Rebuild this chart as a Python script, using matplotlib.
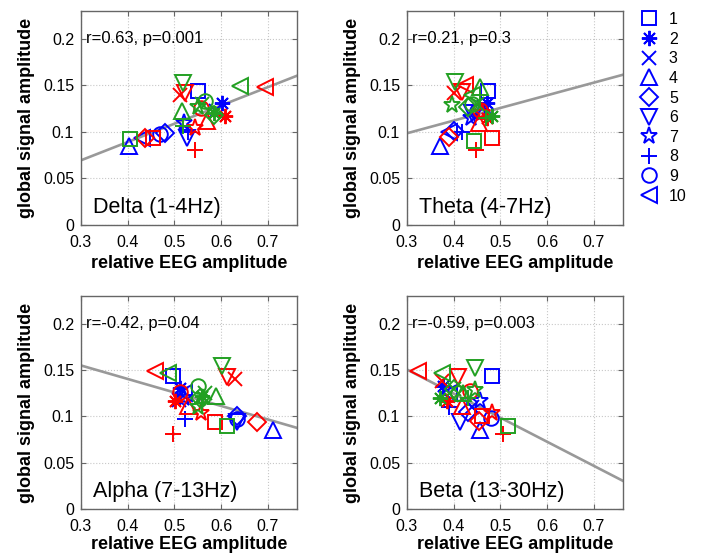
import matplotlib
matplotlib.use('Agg')
import matplotlib.pyplot as plt
from matplotlib.lines import Line2D
import numpy as np

plt.rcParams['font.family'] = ['Liberation Sans', 'DejaVu Sans']

# ---------------- data ----------------
subjects = ['1', '2', '3', '4', '5', '6', '7', '8', '9', '10']
band_titles = ['Delta (1-4Hz)', 'Theta (4-7Hz)', 'Alpha (7-13Hz)', 'Beta (13-30Hz)']
stats_text = ['r=0.63, p=0.001', 'r=0.21, p=0.3', 'r=-0.42, p=0.04', 'r=-0.59, p=0.003']
fit_slope = [0.1965, 0.136, -0.1457, -0.260]
fit_intercept = [0.0106, 0.0578, 0.1987, 0.2286]
x_ticks = [0.3, 0.4, 0.5, 0.6, 0.7]
x_tick_labels = ['0.3', '0.4', '0.5', '0.6', '0.7']
y_ticks = [0, 0.05, 0.1, 0.15, 0.2]
y_tick_labels = ['0', '0.05', '0.1', '0.15', '0.2']

# Delta
delta_x_blue = [0.551, 0.601, 0.590, 0.402, 0.480, 0.526, 0.520, 0.530, 0.470, 0.430]
delta_y_blue = [0.144, 0.131, 0.122, 0.085, 0.099, 0.094, 0.110, 0.100, 0.098, 0.093]
delta_x_red = [0.455, 0.609, 0.512, 0.569, 0.437, 0.523, 0.544, 0.544, 0.558, 0.694]
delta_y_red = [0.094, 0.117, 0.140, 0.112, 0.094, 0.142, 0.104, 0.081, 0.126, 0.148]
delta_x_green = [0.405, 0.585, 0.560, 0.516, 0.585, 0.519, 0.550, 0.519, 0.566, 0.641]
delta_y_green = [0.092, 0.120, 0.130, 0.122, 0.118, 0.153, 0.127, 0.106, 0.133, 0.149]

# Theta
theta_x_blue = [0.474, 0.471, 0.465, 0.371, 0.400, 0.440, 0.437, 0.418, 0.450, 0.390]
theta_y_blue = [0.144, 0.131, 0.127, 0.085, 0.101, 0.120, 0.115, 0.100, 0.122, 0.100]
theta_x_red = [0.482, 0.471, 0.400, 0.454, 0.389, 0.418, 0.460, 0.447, 0.456, 0.424]
theta_y_red = [0.094, 0.115, 0.142, 0.110, 0.095, 0.143, 0.120, 0.081, 0.124, 0.151]
theta_x_green = [0.443, 0.482, 0.450, 0.456, 0.431, 0.403, 0.396, 0.470, 0.440, 0.440]
theta_y_green = [0.090, 0.117, 0.130, 0.148, 0.127, 0.154, 0.129, 0.115, 0.130, 0.140]

# Alpha
alpha_x_blue = [0.497, 0.512, 0.510, 0.712, 0.633, 0.633, 0.520, 0.522, 0.633, 0.520]
alpha_y_blue = [0.1435, 0.131, 0.118, 0.085, 0.100, 0.094, 0.120, 0.097, 0.097, 0.125]
alpha_x_red = [0.587, 0.501, 0.630, 0.530, 0.676, 0.612, 0.558, 0.497, 0.512, 0.458]
alpha_y_red = [0.0935, 0.117, 0.140, 0.111, 0.0935, 0.142, 0.104, 0.081, 0.126, 0.149]
alpha_x_green = [0.612, 0.560, 0.565, 0.590, 0.555, 0.601, 0.550, 0.560, 0.551, 0.487]
alpha_y_green = [0.090, 0.122, 0.125, 0.122, 0.120, 0.154, 0.110, 0.115, 0.133, 0.147]

# Beta
beta_x_blue = [0.482, 0.378, 0.440, 0.456, 0.430, 0.413, 0.4555, 0.390, 0.480, 0.390]
beta_y_blue = [0.1435, 0.133, 0.110, 0.085, 0.105, 0.0935, 0.117, 0.110, 0.098, 0.125]
beta_x_red = [0.460, 0.385, 0.374, 0.417, 0.455, 0.410, 0.482, 0.506, 0.435, 0.324]
beta_y_red = [0.100, 0.117, 0.138, 0.111, 0.095, 0.142, 0.104, 0.081, 0.127, 0.149]
beta_x_green = [0.517, 0.371, 0.400, 0.420, 0.400, 0.446, 0.445, 0.430, 0.410, 0.374]
beta_y_green = [0.090, 0.120, 0.130, 0.125, 0.130, 0.152, 0.128, 0.120, 0.125, 0.147]

bands = [
    [(delta_x_blue, delta_y_blue), (delta_x_red, delta_y_red), (delta_x_green, delta_y_green)],
    [(theta_x_blue, theta_y_blue), (theta_x_red, theta_y_red), (theta_x_green, theta_y_green)],
    [(alpha_x_blue, alpha_y_blue), (alpha_x_red, alpha_y_red), (alpha_x_green, alpha_y_green)],
    [(beta_x_blue, beta_y_blue), (beta_x_red, beta_y_red), (beta_x_green, beta_y_green)],
]

# ---------------- style ----------------
markers = ['s', (8, 2, 0), 'x', '^', 'D', 'v', '*', '+', 'o', '<']
msizes = [10.5, 11, 10, 11, 9, 11, 12.5, 11.5, 10.5, 11]
colors = ['#0000ff', '#ff0000', '#22a022']
spine_col = '#666666'
W, H = 701, 554
fig = plt.figure(figsize=(W / 100, H / 100), dpi=100)

# axes rectangles in pixels: left, top, width, height
rects_px = [(81, 11, 216, 214), (407, 11, 216, 214), (81, 296, 216, 213), (407, 296, 216, 213)]
xmin, xmax = 0.3, 0.7625
ymin, ymax = 0.0, 0.23

for i, (l, t, w, h) in enumerate(rects_px):
    ax = fig.add_axes([l / W, (H - t - h) / H, w / W, h / H])
    ax.set_xlim(xmin, xmax)
    ax.set_ylim(ymin, ymax)
    ax.set_xticks(x_ticks)
    ax.set_xticklabels(x_tick_labels)
    ax.set_yticks(y_ticks)
    ax.set_yticklabels(y_tick_labels)
    ax.grid(True, linestyle=':', color='#c8c8c8', linewidth=0.8)
    ax.set_axisbelow(True)
    ax.tick_params(direction='in', length=3.5, width=0.8, color=spine_col,
                   labelsize=11.5, top=True, right=True, pad=5)
    ax.tick_params(axis='x', pad=7)
    for s in ax.spines.values():
        s.set_color(spine_col)
        s.set_linewidth(1.0)

    xs = np.array([xmin, xmax])
    ax.plot(xs, fit_slope[i] * xs + fit_intercept[i], color='#999999', linewidth=1.9, zorder=2)

    for c, (bx, by) in enumerate(bands[i]):
        for k in range(len(subjects)):
            ax.plot(bx[k], by[k], linestyle='none', marker=markers[k], markersize=msizes[k],
                    markerfacecolor='none', markeredgecolor=colors[c], markeredgewidth=1.4,
                    zorder=3)

    ax.text(0.022, 0.2 / ymax, stats_text[i], transform=ax.transAxes, fontsize=12,
            ha='left', va='center')
    ax.text(0.055, 0.083, band_titles[i], transform=ax.transAxes, fontsize=15.5,
            ha='left', va='center')
    ax.set_xlabel('relative EEG amplitude', fontsize=13, fontweight='bold')
    ax.set_ylabel('global signal amplitude', fontsize=13, fontweight='bold')
    ax.xaxis.set_label_coords(0.5, -0.14 if i < 2 else -0.125)
    ax.yaxis.set_label_coords(-0.215, 0.5)

# legend
handles = [Line2D([], [], linestyle='none', marker=markers[k], markersize=msizes[k],
                  markerfacecolor='none', markeredgecolor=colors[0], markeredgewidth=1.4)
           for k in range(len(subjects))]
fig.legend(handles, subjects, loc='upper left', bbox_to_anchor=(641 / W, 1 - 12 / H),
           frameon=False, fontsize=11.5, handlelength=1.0, handletextpad=0.75,
           labelspacing=0.29, borderaxespad=0, borderpad=0)

fig.savefig('out.png', dpi=100)
